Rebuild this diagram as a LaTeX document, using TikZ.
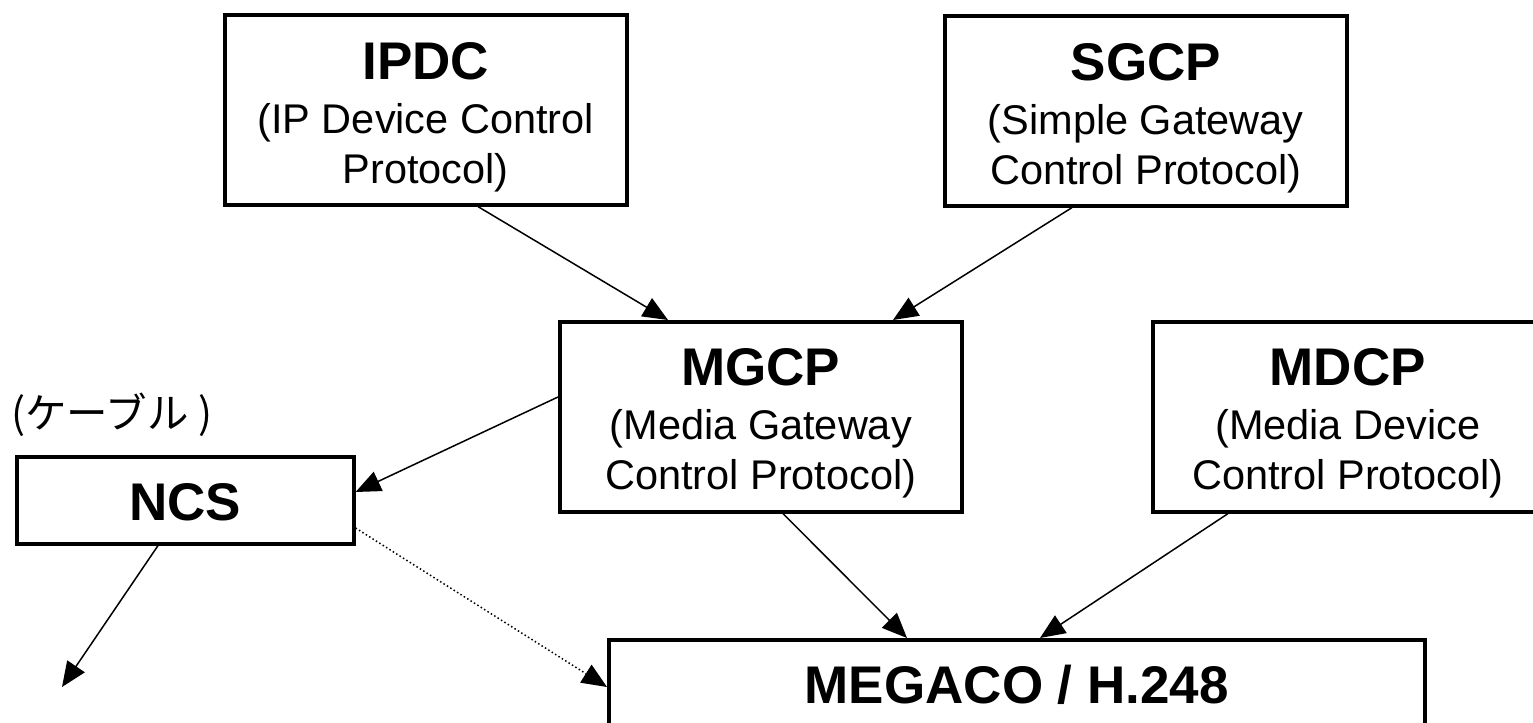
\documentclass[tikz,border=0pt]{standalone}
\usepackage{fontspec}
\setmainfont{Liberation Sans}
\newfontfamily\jpfont{Noto Sans CJK JP}
\usetikzlibrary{arrows.meta,calc}
\begin{document}
\begin{tikzpicture}[x=0.5pt,y=-0.5pt,
  box/.style={draw,line width=1.8pt,minimum width=201pt,minimum height=95pt,inner sep=0pt,anchor=north west},
  ttl/.style={anchor=base,inner sep=0pt,font=\fontsize{26.5}{30}\selectfont\bfseries},
  sub/.style={anchor=base,inner sep=0pt,font=\fontsize{20.75}{25}\selectfont},
  conn/.style={line width=0.75pt,-{Triangle[length=12.5pt,width=10.5pt]}},
  dotconn/.style={conn,line width=0.75pt,dash pattern=on 0.75pt off 1.25pt},
]
\useasboundingbox (0,0) rectangle (1533,723);
\fill[white] (0,0) rectangle (1533,723);
\clip (0,0) rectangle (1533,723);

% boxes
\node[box] (ipdc) at (223,13) {};
\node[box] (sgcp) at (943,14) {};
\node[box] (mgcp) at (558,320) {};
\node[box] (mdcp) at (1151,320) {};
\node[box,minimum width=168.5pt,minimum height=43.5pt] (ncs) at (15,455) {};
\node[box,minimum width=408pt,minimum height=100pt] (megaco) at (607,638) {};

% texts
\node[ttl] (ipdcT) at ($(ipdc.north)+(0,66)$) {IPDC};
\node[sub] (ipdcA) at ($(ipdc.north)+(0,120)$) {(IP Device Control};
\node[sub] (ipdcB) at ($(ipdc.north)+(0,170)$) {Protocol)};

\node[ttl] (sgcpT) at ($(sgcp.north)+(0,66)$) {SGCP};
\node[sub] (sgcpA) at ($(sgcp.north)+(0,120)$) {(Simple Gateway};
\node[sub] (sgcpB) at ($(sgcp.north)+(0,170)$) {Control Protocol)};

\node[ttl] (mgcpT) at ($(mgcp.north)+(0,65)$) {MGCP};
\node[sub] (mgcpA) at ($(mgcp.north)+(0,119)$) {(Media Gateway};
\node[sub] (mgcpB) at ($(mgcp.north)+(0,169)$) {Control Protocol)};

\node[ttl] (mdcpT) at ($(mdcp.north)+(-6,65)$) {MDCP};
\node[sub] (mdcpA) at ($(mdcp.north)+(-6,119)$) {(Media Device};
\node[sub] (mdcpB) at ($(mdcp.north)+(-6,169)$) {Control Protocol)};

\node[ttl] (ncsT) at ($(ncs.north)+(0,65)$) {NCS};
\node[ttl] (megacoT) at ($(megaco.north)+(0,65)$) {MEGACO / H.248};

\node[anchor=base west,inner sep=0pt,font=\jpfont\fontsize{20.75}{25}\selectfont] (cable) at (11,428) {(ケーブル )};

% connectors
\coordinate (free) at (62,687);
\draw[conn] ($(ipdc.south west)+(255,0)$) -- ($(mgcp.north west)+(110,0)$);
\draw[conn] ($(sgcp.south west)+(129,0)$) -- ($(mgcp.north west)+(335,0)$);
\draw[conn] ($(mgcp.north west)+(0,77)$) -- ($(ncs.north east)+(0,37)$);
\draw[conn] ($(mgcp.south west)+(225,0)$) -- ($(megaco.north west)+(300,0)$);
\draw[conn] ($(mdcp.south west)+(77,0)$) -- ($(megaco.north west)+(433,0)$);
\draw[conn] ($(ncs.south west)+(143,0)$) -- (free);
\draw[dotconn] ($(ncs.north east)+(0,73)$) -- ($(megaco.north west)+(0,49)$);
\end{tikzpicture}
\end{document}
